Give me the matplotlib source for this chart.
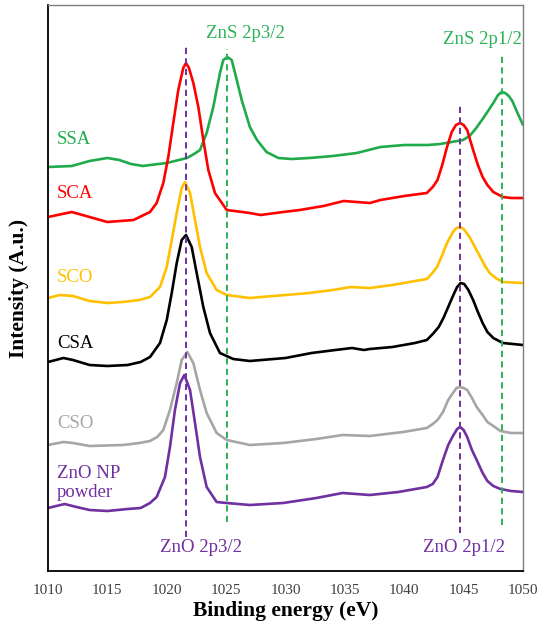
import matplotlib
matplotlib.use("Agg")
import matplotlib.pyplot as plt

# ---- data (energy in eV, intensity in arbitrary units) ----
ssa_e = [1010.0, 1012.0, 1013.5, 1015.0, 1016.0, 1017.0, 1018.0, 1018.6, 1020.0, 1021.7, 1022.3, 1022.8,
         1023.36, 1023.92, 1024.48, 1024.76, 1025.1, 1025.47, 1025.75, 1026.31, 1027.0, 1027.6, 1028.4,
         1029.4, 1030.5, 1032.0, 1034.0, 1036.0, 1038.0, 1040.0, 1042.0, 1043.0, 1044.0, 1044.95,
         1045.5, 1046.0, 1046.6, 1047.0, 1047.5, 1047.9, 1048.2, 1048.5, 1048.8, 1049.1, 1049.5, 1050.0]
ssa_i = [403, 404, 409, 412, 410, 406, 404, 405, 407, 412, 416, 420,
         437, 463, 497, 510, 513, 510, 497, 470, 443, 430, 418,
         412, 411, 412, 414, 417, 423, 425, 425, 426, 428, 430,
         434, 441, 451, 458, 467, 475, 478, 477, 474, 469, 458, 445]

sca_e = [1010.0, 1012.0, 1013.5, 1015.0, 1017.2, 1018.59, 1019.15, 1019.71, 1020.13, 1020.55, 1020.97,
         1021.39, 1021.62, 1021.87, 1022.24, 1022.66, 1023.08, 1023.5, 1024.06, 1025.05, 1027.0, 1027.9,
         1029.8, 1031.2, 1033.2, 1034.9, 1037.1, 1038.0, 1040.0, 1041.9, 1042.4, 1042.8, 1043.2, 1043.6,
         1044.0, 1044.35, 1044.7, 1045.0, 1045.3, 1045.8, 1046.2, 1046.6, 1047.0, 1047.5, 1048.3, 1049.0,
         1050.0]
sca_i = [353, 358, 353, 348, 350, 358, 367, 387, 413, 447, 480,
         502, 507, 502, 487, 463, 430, 400, 377, 360, 357, 355,
         358, 360, 364, 369, 367, 370, 374, 377, 383, 390, 405, 423,
         438, 445, 447, 445, 440, 420, 405, 393, 385, 378, 373, 372,
         372]

sco_e = [1010.0, 1011.0, 1012.1, 1013.5, 1015.0, 1016.3, 1017.7, 1018.59, 1019.43, 1020.0, 1020.42,
         1020.84, 1021.26, 1021.54, 1021.96, 1022.38, 1022.8, 1023.36, 1024.2, 1025.05, 1027.0, 1028.0,
         1030.0, 1032.0, 1034.0, 1035.5, 1037.1, 1039.0, 1041.9, 1042.3, 1042.76, 1043.2, 1043.6, 1044.1,
         1044.4, 1044.7, 1045.0, 1045.5, 1045.9, 1046.4, 1046.8, 1047.2, 1047.7, 1048.3, 1050.0]
sco_i = [272, 275, 274, 269, 267, 268, 270, 273, 283, 303, 330,
         357, 382, 388, 377, 350, 323, 297, 280, 275, 272, 273,
         275, 277, 280, 283, 282, 285, 291, 296, 303, 315, 327, 338,
         342, 343, 341, 333, 324, 313, 304, 297, 292, 288, 287]

csa_e = [1010.0, 1011.3, 1012.1, 1013.5, 1015.0, 1016.7, 1017.8, 1018.59, 1019.43, 1020.0, 1020.42,
         1020.84, 1021.26, 1021.62, 1022.1, 1022.52, 1023.08, 1023.64, 1024.48, 1025.6, 1027.0, 1030.0,
         1032.2, 1034.2, 1035.6, 1036.6, 1037.1, 1039.0, 1040.9, 1041.9, 1042.4, 1042.9, 1043.3, 1043.7,
         1044.1, 1044.45, 1044.75, 1045.05, 1045.4, 1045.8, 1046.2, 1046.6, 1047.0, 1047.5, 1048.3, 1050.0]
csa_i = [208, 212, 210, 205, 204, 205, 208, 213, 227, 250, 277,
         307, 330, 335, 323, 297, 263, 237, 217, 211, 209, 212,
         217, 220, 222, 220, 221, 223, 227, 230, 236, 243, 252, 263,
         274, 283, 287, 286, 280, 270, 258, 247, 238, 232, 227, 225]

cso_e = [1010.0, 1011.3, 1012.1, 1013.5, 1016.3, 1017.7, 1018.59, 1019.2, 1019.71, 1020.27, 1020.84,
         1021.26, 1021.73, 1022.24, 1022.8, 1023.36, 1024.2, 1025.05, 1027.0, 1029.8, 1032.6, 1034.8,
         1037.1, 1039.9, 1041.9, 1042.4, 1042.8, 1043.26, 1043.7, 1044.1, 1044.4, 1044.7, 1045.0, 1045.3,
         1045.7, 1046.1, 1046.6, 1047.0, 1047.5, 1048.1, 1049.0, 1050.0]
cso_i = [125, 128, 127, 124, 125, 127, 129, 133, 140, 160, 187,
         210, 218, 207, 180, 157, 137, 130, 125, 127, 131, 135,
         134, 138, 142, 146, 150, 158, 170, 177, 182, 183, 182, 180,
         172, 163, 155, 148, 144, 139, 137, 137]

zno_e = [1010.0, 1011.4, 1012.4, 1013.5, 1015.0, 1016.7, 1017.8, 1018.59, 1019.15, 1019.85, 1020.27,
         1020.69, 1021.12, 1021.48, 1021.96, 1022.38, 1022.8, 1023.36, 1024.2, 1025.05, 1027.0, 1029.8,
         1032.6, 1034.8, 1037.1, 1039.5, 1041.9, 1042.4, 1042.8, 1043.26, 1043.7, 1044.1, 1044.45, 1044.7,
         1045.0, 1045.3, 1045.7, 1046.1, 1046.6, 1047.0, 1047.5, 1048.1, 1049.0, 1050.0]
zno_i = [62, 66, 63, 60, 59, 61, 62, 67, 73, 93, 123,
         160, 187, 195, 180, 147, 113, 83, 68, 67, 65, 67,
         72, 77, 75, 78, 83, 86, 93, 110, 125, 134, 141, 143,
         140, 133, 120, 110, 97, 89, 84, 81, 79, 78]

series = [
    ("SSA", ssa_e, ssa_i, "#1fab4c", 431),
    ("SCA", sca_e, sca_i, "#ff0000", 376),
    ("SCO", sco_e, sco_i, "#ffc000", 292),
    ("CSA", csa_e, csa_i, "#000000", 227),
    ("CSO", cso_e, cso_i, "#a6a6a6", 146),
    ("ZnO NP\npowder", zno_e, zno_i, "#7030a0", 87),
]

# reference lines: (energy, y0, y1, colour, label, label x, label y)
ref_lines = [
    (1021.6, 33, 523, "#7030a0", "ZnO 2p3/2", 1022.9, 22),
    (1025.1, 48, 521, "#2bb356", "ZnS 2p3/2", 1026.6, 537),
    (1044.7, 37, 465, "#7030a0", "ZnO 2p1/2", 1045.0, 23),
    (1048.2, 45, 517, "#2bb356", "ZnS 2p1/2", 1046.55, 531),
]

xticks = [1010, 1015, 1020, 1025, 1030, 1035, 1040, 1045, 1050]

serif = ["Liberation Serif", "DejaVu Serif"]

fig = plt.figure(figsize=(5.38, 6.34), dpi=100)
ax = fig.add_axes([48 / 538, 63 / 634, 475 / 538, 566 / 634])

for name, e, i, c, ly in series:
    ax.plot(e, i, color=c, lw=1.9, solid_joinstyle="round", solid_capstyle="round")
    ax.text(1010.76, ly, name, color=c, fontsize=13.5, family=serif,
            ha="left", va="center", linespacing=1.15)

for x, y0, y1, c, lab, lx, lyy in ref_lines:
    ax.vlines(x, y0, y1, colors=c, lw=1.4, linestyles=(0, (3.2, 2.2)))
    ax.text(lx, lyy, lab, color=c, fontsize=13.5, family=serif, ha="center", va="center")

ax.set_xlim(1010, 1050)
ax.set_ylim(-1, 565)
ax.set_xticks(xticks)
ax.set_xticklabels([str(t) for t in xticks], family=serif, fontsize=11, color="#404040")
ax.set_yticks([])
ax.tick_params(axis="x", length=0, pad=9)

for s in ["left", "bottom"]:
    ax.spines[s].set_color("#000000")
    ax.spines[s].set_linewidth(1.3)
for s in ["top", "right"]:
    ax.spines[s].set_color("#7f7f7f")
    ax.spines[s].set_linewidth(1.0)

fig.text(285.5 / 538, 1 - 611 / 634, "Binding energy (eV)", family=serif, fontsize=15.5,
         fontweight="bold", ha="center", va="center")
fig.text(19 / 538, 1 - 288 / 634, "Intensity (A.u.)", family=serif, fontsize=15.5,
         fontweight="bold", ha="center", va="center", rotation=90)

fig.savefig("out.png", dpi=100)
